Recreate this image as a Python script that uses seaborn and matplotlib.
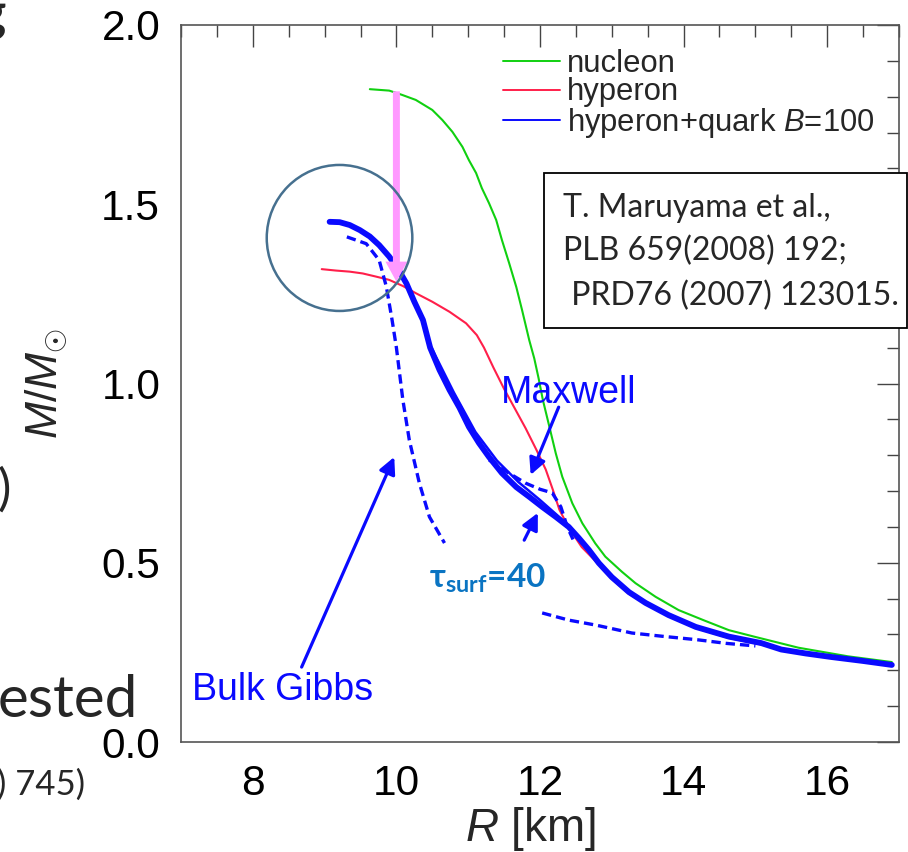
import matplotlib
matplotlib.use("Agg")
import matplotlib.pyplot as plt
from matplotlib.lines import Line2D
from matplotlib.patches import Ellipse, Rectangle
from matplotlib.ticker import MultipleLocator
import seaborn as sns

# ---- mass-radius relations (R in km, M in solar masses) ----
nucleon_R = [9.63, 9.90, 10.08, 10.27, 10.5, 10.64, 10.78, 10.92, 11.01, 11.11,
             11.19, 11.29, 11.39, 11.47, 11.57, 11.67, 11.75, 11.85, 11.92, 11.98,
             12.04, 12.13, 12.22, 12.31, 12.45, 12.59, 12.77, 12.91, 13.14, 13.33,
             13.61, 13.93, 14.30, 14.63, 15.0, 15.32, 15.6, 16.29, 16.9]
nucleon_M = [1.821, 1.817, 1.805, 1.791, 1.763, 1.735, 1.702, 1.66, 1.623, 1.587,
             1.545, 1.503, 1.456, 1.40, 1.336, 1.269, 1.205, 1.121, 1.07, 1.015,
             0.954, 0.88, 0.805, 0.74, 0.666, 0.61, 0.554, 0.517, 0.475, 0.443,
             0.405, 0.368, 0.338, 0.312, 0.293, 0.277, 0.263, 0.239, 0.223]

hyperon_R = [8.96, 9.16, 9.35, 9.53, 9.72, 9.90, 10.09, 10.27, 10.5, 10.74, 10.97,
             11.12, 11.22, 11.35, 11.5, 11.65, 11.8, 11.95, 12.08, 12.18, 12.27,
             12.4, 12.58, 12.82, 13.0, 13.24, 13.5, 13.8, 14.17, 14.63, 15.08,
             15.6, 16.25, 16.9]
hyperon_M = [1.319, 1.315, 1.312, 1.307, 1.298, 1.289, 1.272, 1.252, 1.228, 1.20,
             1.168, 1.135, 1.10, 1.045, 0.985, 0.93, 0.875, 0.815, 0.76, 0.703,
             0.648, 0.598, 0.544, 0.495, 0.455, 0.413, 0.383, 0.35, 0.318, 0.29,
             0.272, 0.25, 0.23, 0.213]

# hyperon+quark, B=100: finite surface tension (tau_surf = 40)
tau40_R = [9.07, 9.21, 9.35, 9.49, 9.63, 9.76, 9.90, 10.02, 10.14, 10.25, 10.37,
           10.47, 10.6, 10.74, 10.88, 11.01, 11.15, 11.29, 11.47, 11.67, 11.85,
           12.03, 12.22, 12.4, 12.54, 12.68, 12.82, 13.0, 13.24, 13.47, 13.79,
           14.17, 14.63, 15.08, 15.36, 15.7, 16.06, 16.5, 16.9]
tau40_M = [1.451, 1.45, 1.442, 1.428, 1.41, 1.386, 1.354, 1.321, 1.279, 1.228,
           1.177, 1.10, 1.038, 0.982, 0.932, 0.879, 0.834, 0.795, 0.75, 0.711,
           0.684, 0.656, 0.628, 0.60, 0.569, 0.536, 0.499, 0.46, 0.418, 0.388,
           0.354, 0.321, 0.294, 0.276, 0.258, 0.247, 0.237, 0.226, 0.215]

# companion solid branch running alongside
branch_R = [10.45, 10.8, 11.1, 11.4, 11.7, 12.0, 12.3, 12.5]
branch_M = [1.115, 0.975, 0.865, 0.785, 0.725, 0.675, 0.622, 0.575]

# bulk Gibbs construction (two stable segments)
gibbs_hi_R = [9.31, 9.58, 9.76, 9.86, 9.94, 10.0, 10.09, 10.18, 10.32, 10.46, 10.67]
gibbs_hi_M = [1.409, 1.39, 1.344, 1.27, 1.177, 1.10, 0.954, 0.842, 0.722, 0.628, 0.555]
gibbs_lo_R = [12.03, 12.4, 12.78, 13.28, 13.7, 14.2, 14.6, 15.0]
gibbs_lo_M = [0.36, 0.34, 0.326, 0.304, 0.295, 0.285, 0.275, 0.268]

# Maxwell construction
maxwell_R = [11.29, 11.55, 11.8, 12.0, 12.17, 12.29, 12.38, 12.46]
maxwell_M = [0.787, 0.752, 0.722, 0.705, 0.695, 0.656, 0.60, 0.565]

legend_labels = ["nucleon", "hyperon", "hyperon+quark $B$=100"]

GREEN = "#10d010"
RED = "#ff1f4a"
BLUE = "#0a0aff"
PINK = "#ff99ff"
RING = "#46708f"
TAU_BLUE = "#0a74c2"

sns.set_theme(style="white")
plt.rcParams.update({
    "font.family": ["Liberation Sans", "DejaVu Sans"],
    "mathtext.fontset": "custom",
    "mathtext.rm": "Liberation Sans",
    "mathtext.it": "Liberation Sans:italic",
    "mathtext.bf": "Lato:bold",
})

fig = plt.figure(figsize=(9.08, 8.52), dpi=100)
ax = fig.add_axes([181 / 908, 1 - 742 / 852, 718 / 908, 717 / 852])


def curve(R, M, color, lw, ls="-", z=2):
    sns.lineplot(x=R, y=M, sort=False, estimator=None, ax=ax, color=color,
                 linewidth=lw, linestyle=ls, zorder=z,
                 solid_capstyle="round", solid_joinstyle="round",
                 dash_capstyle="butt")


dash = (0, (2.8, 1.5))
curve(nucleon_R, nucleon_M, GREEN, 1.5)
curve(hyperon_R, hyperon_M, RED, 1.5)
curve(gibbs_hi_R, gibbs_hi_M, BLUE, 2.4, dash)
curve(gibbs_lo_R, gibbs_lo_M, BLUE, 2.4, dash)
curve(maxwell_R, maxwell_M, BLUE, 2.4, dash)
curve(branch_R, branch_M, BLUE, 1.8)
curve(tau40_R, tau40_M, BLUE, 4.2, z=3)

ax.set_xlim(7, 17)
ax.set_ylim(0, 2.0)
ax.xaxis.set_major_locator(MultipleLocator(2))
ax.xaxis.set_minor_locator(MultipleLocator(0.5))
ax.yaxis.set_major_locator(MultipleLocator(0.5))
ax.yaxis.set_minor_locator(MultipleLocator(0.1))
ax.set_xticks([8, 10, 12, 14, 16])
ax.set_xticklabels(["8", "10", "12", "14", "16"])
ax.set_yticks([0.0, 0.5, 1.0, 1.5, 2.0])
ax.set_yticklabels(["0.0", "0.5", "1.0", "1.5", "2.0"])
ax.tick_params(which="both", direction="in", top=True, right=True,
               color="#444444", labelcolor="black", labelsize=30.5)
ax.tick_params(which="major", length=16, width=1.0)
ax.tick_params(which="minor", length=8.5, width=1.0)
ax.tick_params(axis="y", pad=15)
ax.tick_params(axis="x", pad=16)
for sp in ax.spines.values():
    sp.set_color("#555555")
    sp.set_linewidth(1.2)

ax.set_xlabel(r"$R$ [km]", fontsize=33)
ax.xaxis.set_label_coords(0.4875, -0.088)
ax.set_ylabel(r"$M/M_{\odot}$", fontsize=32)
ax.yaxis.set_label_coords(-0.155, 0.5)

handles = [Line2D([], [], color=c, lw=1.4) for c in (GREEN, RED, BLUE)]
ax.legend(handles, legend_labels, loc="upper left", bbox_to_anchor=(0.4485, 0.9666),
          frameon=False, fontsize=22.3, handlelength=1.85, handletextpad=0.22,
          labelspacing=-0.05, borderpad=0, borderaxespad=0)

# annotations
arrow = dict(arrowstyle="-|>,head_length=0.5,head_width=0.25", color=BLUE,
             lw=2.3, mutation_scale=20, shrinkA=0, shrinkB=0)
ax.annotate("", xy=(11.87, 0.745), xytext=(12.26, 0.934), arrowprops=arrow, zorder=5)
ax.annotate("", xy=(11.97, 0.639), xytext=(11.78, 0.563), arrowprops=arrow, zorder=5)
ax.annotate("", xy=(9.97, 0.795), xytext=(8.68, 0.209), arrowprops=arrow, zorder=5)

ax.text(12.40, 0.946, "Maxwell", color=BLUE, fontsize=27, ha="center",
        va="baseline", zorder=6)
ax.text(8.42, 0.117, "Bulk Gibbs", color=BLUE, fontsize=27, ha="center",
        va="baseline", zorder=6)
ax.text(10.46, 0.432, r"τ$_{\mathbf{surf}}$=40", color=TAU_BLUE, fontsize=24,
        fontweight="bold", family=["Lato", "DejaVu Sans"], ha="left",
        va="baseline", zorder=6)

# mass drop marker and highlighted region
ax.arrow(10.0, 1.815, 0, -(1.815 - 1.284), width=0.097, head_width=0.305,
         head_length=0.056, length_includes_head=True, color=PINK, lw=0,
         zorder=4)
ax.add_patch(Ellipse((9.208, 1.406), 146 / 72, 146 / 358.5, fill=False,
                     edgecolor=RING, lw=1.8, zorder=7, clip_on=False))

# reference box
fig.add_artist(Rectangle((544 / 908, 1 - 328 / 852), 363 / 908, 155 / 852,
                         transform=fig.transFigure, facecolor="white",
                         edgecolor="black", lw=1.3, zorder=8))
ref_lines = ["T. Maruyama et al.,", "PLB 659(2008) 192;", " PRD76 (2007) 123015."]
for txt, base in zip(ref_lines, [217, 260, 305]):
    fig.text(563 / 908, 1 - base / 852, txt, fontsize=23, family=["Lato"],
             ha="left", va="baseline", zorder=9)

# surrounding slide text
slide_font = ["Lato", "DejaVu Sans"]
fig.text(-2 / 908, 1 - 717 / 852, "ested", fontsize=42, family=slide_font,
         ha="left", va="baseline")
fig.text(-3 / 908, 1 - 795 / 852, ") 745)", fontsize=25, family=slide_font,
         ha="left", va="baseline")
fig.text(-3 / 908, 1 - 505 / 852, ")", fontsize=36, family=slide_font,
         ha="left", va="baseline")
fig.text(6 / 908, 1 - 30 / 852, "g", fontsize=40, family=slide_font,
         ha="right", va="baseline", fontweight="bold")

fig.savefig("out.png", dpi=100)
